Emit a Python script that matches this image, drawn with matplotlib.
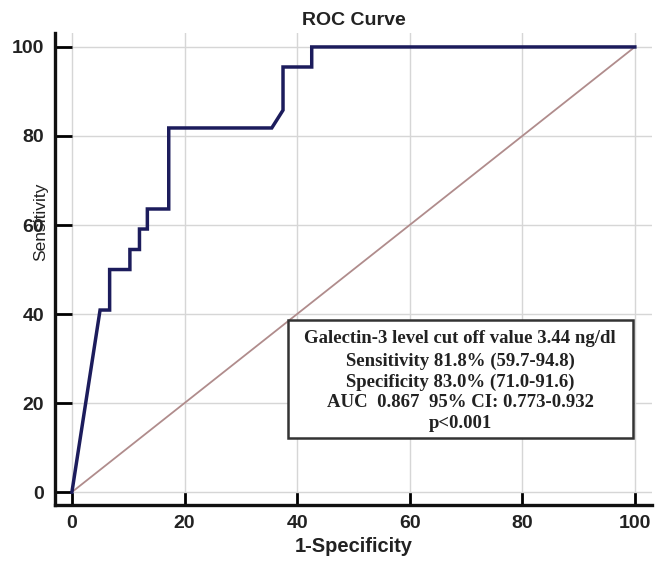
import matplotlib
matplotlib.use("Agg")
import matplotlib.pyplot as plt
from matplotlib.patches import Rectangle

# ROC curve data (1-Specificity %, Sensitivity %)
fpr = [0, 5.0, 6.7, 6.7, 10.3, 10.3, 12.0, 12.0, 13.4, 13.4, 17.2, 17.2,
       35.5, 37.5, 37.5, 42.6, 42.6, 100]
tpr = [0, 40.9, 40.9, 50.0, 50.0, 54.5, 54.5, 59.1, 59.1, 63.6, 63.6, 81.8,
       81.8, 85.8, 95.5, 95.5, 100, 100]
ref_x = [0, 100]
ref_y = [0, 100]
ticks = [0, 20, 40, 60, 80, 100]

box_lines = [
    "Galectin-3 level cut off value 3.44 ng/dl",
    "Sensitivity 81.8% (59.7-94.8)",
    "Specificity 83.0% (71.0-91.6)",
    "AUC  0.867  95% CI: 0.773-0.932",
    "p<0.001",
]

plt.rcParams['font.family'] = ['Liberation Sans', 'DejaVu Sans']

fig = plt.figure(figsize=(6.63, 5.62), dpi=100)
ax = fig.add_axes([0.083, 0.1014, 0.9, 0.8396])

ax.set_xlim(-3, 103)
ax.set_ylim(-2.9, 103.1)

ax.grid(True, color='#d6d6d6', linewidth=1.0)
ax.set_axisbelow(True)

ax.plot(ref_x, ref_y, color='#b08c8c', linewidth=1.3, zorder=2)
ax.plot(fpr, tpr, color='#1c1c5c', linewidth=2.5, zorder=3,
        solid_joinstyle='miter')

ax.set_xticks(ticks)
ax.set_yticks(ticks)
ax.tick_params(axis='y', direction='in', length=12, width=2.0, pad=8,
               labelsize=14)
ax.tick_params(axis='x', direction='in', length=9.5, width=2.0, pad=7,
               labelsize=14)
for lab in ax.get_xticklabels() + ax.get_yticklabels():
    lab.set_fontweight('bold')
    lab.set_color('#222222')

for s in ['top', 'right']:
    ax.spines[s].set_visible(False)
for s in ['left', 'bottom']:
    ax.spines[s].set_linewidth(2.4)
    ax.spines[s].set_color('#111111')

ax.set_title("ROC Curve", fontsize=14, fontweight='bold', color='#222222',
             pad=6)
ax.set_xlabel("1-Specificity", fontsize=14.5, fontweight='bold', color='#222222',
              labelpad=4)
ax.set_ylabel("Sensitivity", fontsize=12.5, color='#222222')
ax.yaxis.set_label_coords(-0.012, 0.60)

# annotation box
ax.add_patch(Rectangle((38.4, 12.1), 61.2, 26.6, facecolor='white',
                       edgecolor='#333333', linewidth=1.8, zorder=4))
ys = [34.6, 29.3, 24.7, 20.1, 15.4]
for t, y in zip(box_lines, ys):
    ax.text(69.0, y, t, ha='center', va='center', fontsize=13.5,
            fontweight='bold', family=['Liberation Serif', 'DejaVu Serif'],
            color='#222222', zorder=5)

fig.savefig("out.png", dpi=100)
